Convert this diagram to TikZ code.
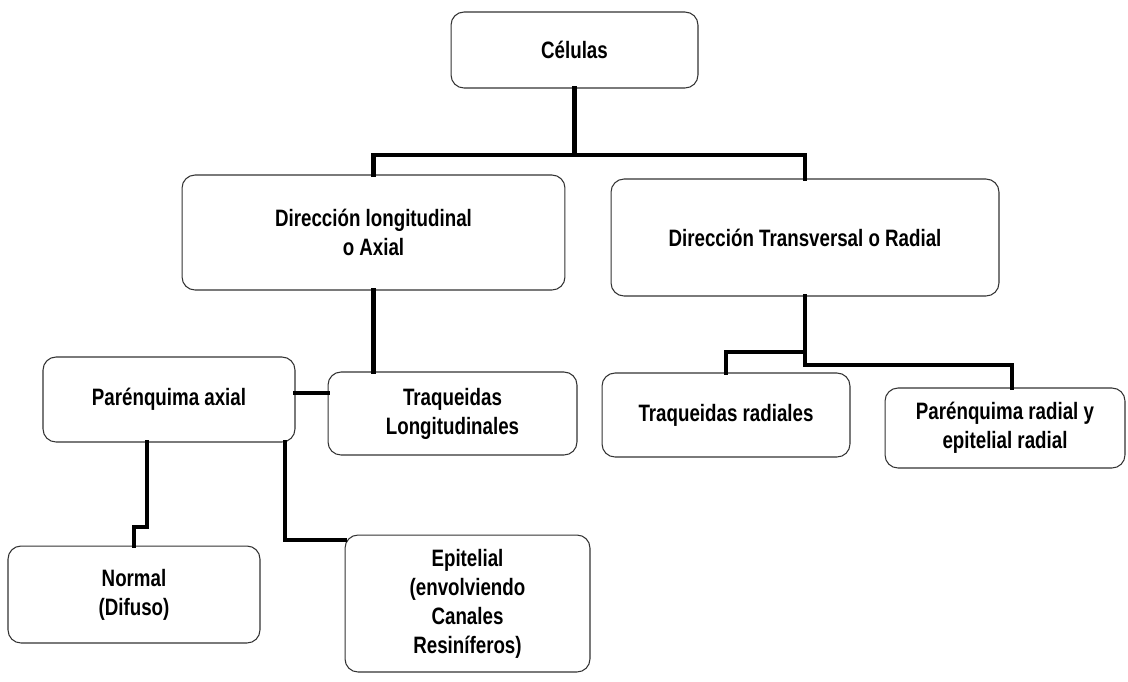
\documentclass[tikz,border=0pt]{standalone}
\usepackage{fontspec}
\setmainfont{Liberation Sans}[FakeStretch=0.79]
\usetikzlibrary{calc}
\begin{document}
\begin{tikzpicture}[x=0.02cm,y=-0.02cm,
  box/.style={draw=black!80,line width=0.6pt,rounded corners=0.26cm,align=center,
    inner sep=0pt,font=\fontsize{13.5}{16.5}\selectfont\bfseries},
  conn/.style={line width=2.8pt,line cap=rect}]
\useasboundingbox (0,0) rectangle (1128,681);
\node[box,minimum width=4.94cm,minimum height=1.52cm] (cel) at (574.5,50) {Células};
\node[box,minimum width=7.66cm,minimum height=2.30cm,text depth=-0.2cm] (dlong) at (373.5,232.5) {Dirección longitudinal\\o Axial};
\node[box,minimum width=7.76cm,minimum height=2.34cm] (dtrans) at (805,237.5) {Dirección Transversal o Radial};
\node[box,minimum width=5.04cm,minimum height=1.70cm] (paxial) at (169,399.5) {Parénquima axial};
\node[box,minimum width=4.98cm,minimum height=1.66cm] (tlong) at (452.5,413.5) {Traqueidas\\Longitudinales};
\node[box,minimum width=4.96cm,minimum height=1.68cm] (trad) at (726,415) {Traqueidas radiales};
\node[box,minimum width=4.80cm,minimum height=1.60cm] (prad) at (1005,428) {Parénquima radial y\\epitelial radial};
\node[box,minimum width=5.04cm,minimum height=1.94cm] (normal) at (134,594.5) {Normal\\(Difuso)};
\node[box,minimum width=4.90cm,minimum height=2.74cm] (epit) at (467.5,603.5) {Epitelial\\(envolviendo\\Canales\\Resiníferos)};
\coordinate (j1) at (574.5,155);
\coordinate (j2) at (312,393);
\coordinate (s1) at (147,527);
\coordinate (s2) at (285,540);
\coordinate (b1) at (805,352);
\coordinate (b2) at (805,365);
\coordinate (b3) at (1012,365);
\draw[conn] (cel.south) -- (j1);
\draw[conn] (dlong.north) |- (j1) -| (dtrans.north);
\draw[conn] (dlong.south) -- (dlong.south |- tlong.north);
\draw[conn] (j2 -| paxial.east) -- (j2 -| tlong.west);
\draw[conn] (paxial.south -| s1) -- (s1) -- (s1 -| normal.north) -- (normal.north);
\draw[conn] (paxial.south -| s2) -- (s2) -- (s2 -| epit.west);
\draw[conn] (dtrans.south) -- (b2) -- (b3) -- (b3 |- prad.north);
\draw[conn] (b1) -| (trad.north);
\end{tikzpicture}
\end{document}
